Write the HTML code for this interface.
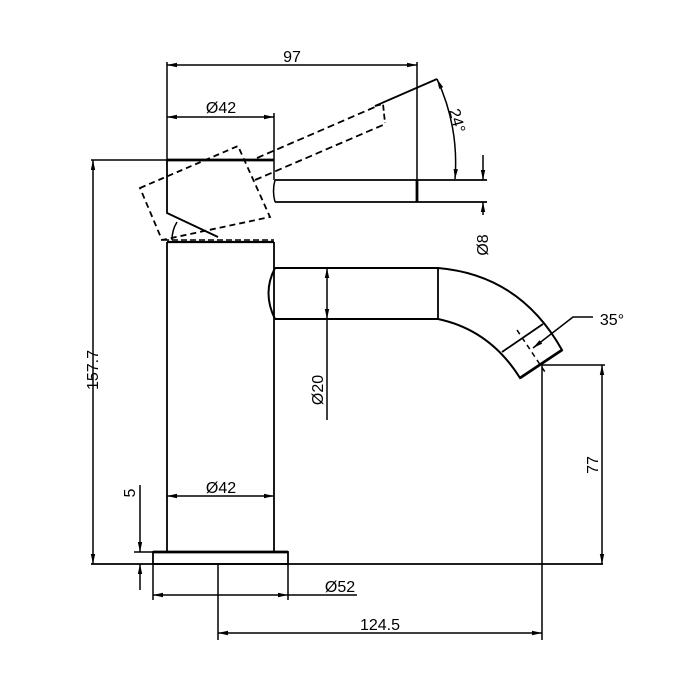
<!DOCTYPE html>
<html><head><meta charset="utf-8"><style>html,body{margin:0;padding:0;background:#fff}svg{display:block}</style></head>
<body>
<svg width="683" height="700" viewBox="0 0 683 700" xmlns="http://www.w3.org/2000/svg" font-family="Liberation Sans, sans-serif" font-size="16">
<defs>
<marker id="a" viewBox="0 0 10 6" refX="10" refY="3" markerWidth="10" markerHeight="6" markerUnits="userSpaceOnUse" orient="auto-start-reverse"><path d="M0,0.8 L10,3 L0,5.2 z" fill="#000"/></marker>
</defs>
<g stroke="#000" fill="none" stroke-width="1.5">
<line x1="167" y1="62" x2="167" y2="160"/>
<line x1="417" y1="62" x2="417" y2="180"/>
<line x1="167" y1="65" x2="417" y2="65" marker-start="url(#a)" marker-end="url(#a)"/>
<line x1="274" y1="113" x2="274" y2="180"/>
<line x1="167" y1="117" x2="274" y2="117" marker-start="url(#a)" marker-end="url(#a)"/>
<line x1="91" y1="160" x2="167" y2="160"/>
<line x1="93" y1="160" x2="93" y2="564" marker-start="url(#a)" marker-end="url(#a)"/>
<line x1="167" y1="160" x2="274" y2="160" stroke-width="2.8"/>
<polyline points="167,160 167,213 218,237" stroke-width="1.8"/>
<path d="M177,222 Q172,230 172,240"/>
<line x1="163" y1="240" x2="274" y2="240" stroke-dasharray="6,3"/>
<line x1="167" y1="242" x2="274" y2="242" stroke-width="2.2"/>
<polygon points="140,188 238,146 270,217 162,240" stroke-dasharray="6,4" stroke-width="1.8"/>
<line x1="257" y1="158" x2="375" y2="107" stroke-dasharray="7,4" stroke-width="1.8"/>
<line x1="255" y1="180" x2="383" y2="125" stroke-dasharray="7,4" stroke-width="1.8"/>
<polyline points="375,106 383,104 385,123" stroke-dasharray="6,3" stroke-width="1.8"/>
<line x1="375" y1="106" x2="437" y2="79" stroke-width="1.8"/>
<path d="M437,79 A200,200 0 0 1 455,179" marker-start="url(#a)" marker-end="url(#a)"/>
<line x1="275" y1="180" x2="487" y2="180" stroke-width="1.8"/>
<line x1="275" y1="202" x2="487" y2="202" stroke-width="1.8"/>
<line x1="417" y1="180" x2="417" y2="202" stroke-width="2.8"/>
<path d="M275,180 Q272,191 275,202"/>
<line x1="483" y1="155" x2="483" y2="180" marker-end="url(#a)"/>
<line x1="483" y1="215" x2="483" y2="202" marker-end="url(#a)"/>
<line x1="167" y1="242" x2="167" y2="552" stroke-width="1.8"/>
<line x1="274" y1="242" x2="274" y2="552" stroke-width="1.8"/>
<path d="M275,268 L438,268 Q520,275 562,350 L520,378 Q490,330 438,319 L275,319" stroke-width="2"/>
<path d="M275,268 Q262,293 275,319" stroke-width="2"/>
<line x1="438" y1="268" x2="438" y2="319" stroke-width="1.8"/>
<line x1="520" y1="378" x2="562" y2="350" stroke-width="2.8"/>
<line x1="502" y1="352" x2="543" y2="324" stroke-width="1.8"/>
<line x1="517" y1="330" x2="545" y2="372" stroke-dasharray="5,4"/>
<polyline points="533,348 573,317 593,317" marker-start="url(#a)"/>
<line x1="327" y1="268" x2="327" y2="319" marker-start="url(#a)" marker-end="url(#a)"/>
<line x1="327" y1="319" x2="327" y2="420"/>
<line x1="542" y1="365" x2="605" y2="365"/>
<line x1="602" y1="365" x2="602" y2="564" marker-start="url(#a)" marker-end="url(#a)"/>
<line x1="542" y1="365" x2="542" y2="640"/>
<line x1="167" y1="496" x2="274" y2="496" marker-start="url(#a)" marker-end="url(#a)"/>
<rect x="153" y="552" width="135" height="12" stroke-width="1.8"/>
<line x1="153" y1="552" x2="288" y2="552" stroke-width="2.8"/>
<line x1="91" y1="564" x2="603" y2="564" stroke-width="1.8"/>
<line x1="153" y1="564" x2="153" y2="600"/>
<line x1="288" y1="564" x2="288" y2="600"/>
<line x1="153" y1="595" x2="288" y2="595" marker-start="url(#a)" marker-end="url(#a)"/>
<line x1="288" y1="595" x2="357" y2="595"/>
<line x1="134" y1="552" x2="153" y2="552"/>
<line x1="140" y1="485" x2="140" y2="552" marker-end="url(#a)"/>
<line x1="140" y1="590" x2="140" y2="564" marker-end="url(#a)"/>
<line x1="218" y1="564" x2="218" y2="640"/>
<line x1="218" y1="633" x2="542" y2="633" marker-start="url(#a)" marker-end="url(#a)"/>
</g>
<g fill="#000">
<text x="292" y="62" text-anchor="middle">97</text>
<text x="221" y="113" text-anchor="middle">Ø42</text>
<text x="221" y="493" text-anchor="middle">Ø42</text>
<text x="340" y="592" text-anchor="middle">Ø52</text>
<text x="380" y="630" text-anchor="middle">124.5</text>
<text x="612" y="325" text-anchor="middle">35°</text>
<text transform="translate(98,370) rotate(-90)" text-anchor="middle">157.7</text>
<text transform="translate(598,465) rotate(-90)" text-anchor="middle">77</text>
<text transform="translate(323,390) rotate(-90)" text-anchor="middle">Ø20</text>
<text transform="translate(488,245) rotate(-90)" text-anchor="middle">Ø8</text>
<text transform="translate(135,493) rotate(-90)" text-anchor="middle">5</text>
<text transform="translate(452,122) rotate(75)" text-anchor="middle">24°</text>
</g>
</svg>
</body></html>
